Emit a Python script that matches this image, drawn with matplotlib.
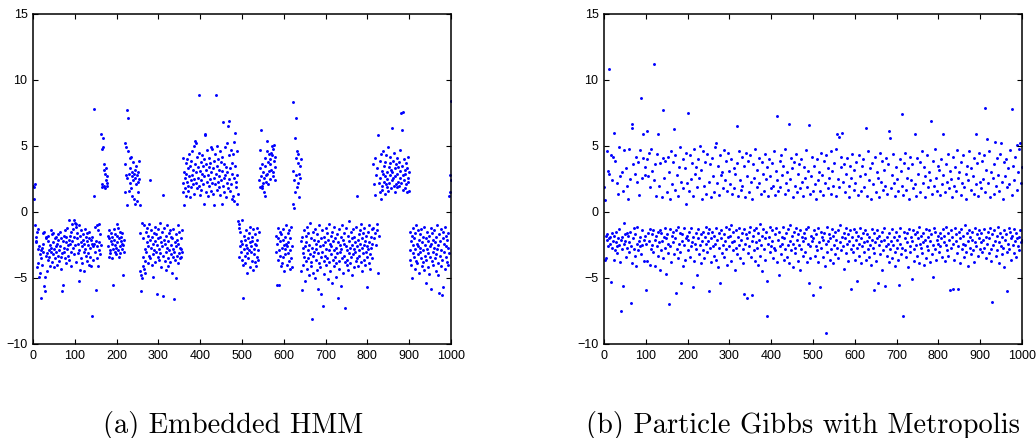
import matplotlib
matplotlib.use("Agg")
import matplotlib.pyplot as plt
import numpy as np

# Panel (a): Embedded HMM -- segments of consecutive iterations (start index, values)
a_starts = [1, 5, 145, 147, 163, 179, 219, 256, 358, 491, 541, 581, 621, 641, 813, 901, 996]
a_segments = [
    [2.0, 1.9, 1.0, 2.1],
    [-1.0, -2.3, -1.9, -2.2, -1.5, -4.2, -1.3, -2.8, -3.9, -4.9,
     -2.6, -3.2, -4.6, -2.9, -6.5, -3.5, -2.7, -4.0, -1.6, -3.0,
     -2.4, -5.6, -1.5, -4.9, -6.0, -3.3, -2.0, -1.9, -4.5, -3.1,
     -2.2, -3.6, -1.8, -2.9, -3.4, -2.5, -4.1, -1.4, -3.0, -2.7,
     -1.7, -3.8, -2.3, -3.2, -1.6, -2.8, -4.2, -2.0, -3.5, -2.6,
     -1.9, -3.0, -2.4, -4.0, -1.7, -3.3, -2.1, -2.9, -3.7, -1.5,
     -2.6, -3.4, -2.0, -4.3, -3.1, -6.0, -5.5, -2.2, -1.8, -3.0,
     -2.7, -1.4, -3.5, -2.3, -3.9, -1.9, -2.8, -1.2, -3.3, -2.5,
     -0.6, -2.1, -3.6, -1.8, -2.4, -4.1, -1.5, -3.0, -2.2, -0.9,
     -1.3, -2.7, -0.6, -1.9, -3.2, -0.8, -2.5, -1.1, -3.8, -0.9,
     -2.0, -1.6, -3.1, -2.4, -1.0, -5.2, -2.9, -1.8, -4.4, -2.3,
     -3.5, -1.4, -2.6, -3.9, -2.1, -1.7, -3.0, -2.4, -4.5, -1.3,
     -2.8, -3.3, -1.9, -2.2, -3.7, -1.6, -2.5, -3.1, -2.0, -4.0,
     -1.5, -2.7, -3.4, -2.1, -4.1, -7.9, -2.4, -1.9, -3.6, -2.6],
    [7.8, 1.2],
    [-2.4, -3.0, -1.1, -5.9, -2.2, -1.0, -3.5, -2.6, -1.4, -4.1,
     -2.9, -0.9, -2.3, -3.2, -1.7, -2.5],
    [5.9, 1.9, 4.8, 2.1, 5.6, 4.9, 3.6, 2.0, 3.2, 1.8, 2.9, 2.4, 3.3, 2.2, 2.7, 2.0],
    [-1.8, -2.6, -3.4, -2.0, -1.4, -2.9, -3.1, -2.2, -1.6, -3.5,
     -2.4, -1.9, -2.8, -5.5, -2.1, -1.3, -3.0, -2.5, -1.7, -2.7,
     -3.2, -0.9, -2.3, -1.8, -2.9, -1.2, -3.4, -2.0, -2.6, -1.5,
     -3.1, -2.2, -1.9, -2.8, -2.4, -1.6, -4.8, -2.5, -3.0, -2.1],
    [3.6, 5.2, 1.5, 2.8, 4.9, 0.5, 7.7, 2.6, 7.1, 4.6,
     1.6, 2.9, 4.1, 3.3, 2.2, 1.8, 4.2, 2.7, 3.0, 1.2,
     2.4, 3.8, 2.9, 1.0, 3.2, 2.6, 0.6, 2.1, 3.5, 2.8,
     0.8, 3.0, 2.3, 1.5, 3.9, 2.5, 0.5],
    [-4.5, -1.6, -6.0, -4.8, -5.0, -0.8, -4.1, -3.4, -2.0, -4.3,
     -1.0, -3.7, -2.8, -4.6, -1.5, -3.0, -2.3, -1.2, -3.9, -2.6,
     -1.8, -3.3, -0.9, 2.4, -2.1, -3.5, -1.4, -2.7, -4.0, -1.9,
     -4.9, -2.4, -3.2, -1.6, -2.9, -3.8, -1.1, -2.2, -3.0, -1.7,
     -6.2, -2.5, -3.4, -1.3, -2.0, -3.6, -2.8, -0.8, -1.9, -3.1,
     -2.3, -4.2, -1.5, -2.6, 1.3, -3.3, -6.4, -2.1, -1.2, -3.7,
     -2.4, -1.8, -3.0, -4.4, -2.7, -1.0, -3.5, -2.2, -4.1, -1.6,
     -2.9, -3.8, -1.4, -2.5, -3.2, -1.9, -4.6, -2.0, -2.8, -3.4,
     -1.3, -3.0, -6.6, -2.3, -3.6, -1.7, -2.6, -5.0, -3.3, -2.1,
     -1.0, -3.9, -2.4, -3.1, -1.5, -2.7, -3.5, -2.0, -3.4, -2.8,
     -1.4, -3.0],
    [1.5, 4.1, 2.2, 0.5, 3.0, 1.8, 2.6, 3.7, 1.2, 2.9,
     4.0, 2.3, 1.6, 3.3, 2.0, 4.4, 2.7, 1.1, 3.5, 2.4,
     3.9, 1.9, 2.8, 4.6, 2.1, 3.2, 1.4, 5.0, 2.5, 3.6,
     5.4, 2.2, 5.2, 3.0, 1.8, 4.2, 2.6, 3.4, 8.9, 2.0,
     4.5, 1.3, 3.1, 2.4, 3.8, 1.7, 2.9, 4.3, 2.1, 3.5,
     0.6, 2.7, 4.0, 5.9, 5.8, 3.2, 1.5, 3.6, 2.3, 4.7,
     2.8, 1.2, 3.4, 2.0, 4.1, 2.5, 3.7, 1.6, 4.9, 3.0,
     2.2, 4.8, 1.4, 3.3, 2.6, 0.5, 3.9, 2.1, 4.4, 8.9,
     2.9, 1.7, 3.5, 5.0, 2.3, 4.0, 1.9, 3.2, 2.7, 4.6,
     1.3, 3.8, 2.4, 0.6, 4.2, 3.1, 2.0, 6.8, 2.6, 3.6,
     1.5, 4.9, 2.8, 3.4, 1.1, 5.2, 2.2, 3.0, 1.8, 6.5,
     2.5, 4.3, 6.9, 1.6, 3.3, 2.1, 4.7, 1.0, 2.9, 3.7,
     1.2, 4.4, 2.6, 0.8, 5.3, 6.0, 3.5, 1.9, 2.3, 4.6,
     0.6, 2.8, 1.4],
    [-0.7, -1.2, -3.4, -0.9, -2.6, -1.5, -3.0, -2.2, -0.6, -3.6,
     -2.4, -4.0, -6.5, -2.8, -1.8, -3.3, -2.1, -3.9, -2.5, -1.4,
     -3.1, -2.7, -4.6, -2.0, -3.5, -1.6, -2.9, -4.2, -2.3, -1.1,
     -3.0, -2.6, -1.9, -3.7, -2.2, -4.4, -1.3, -2.8, -3.2, -2.4,
     -1.7, -3.8, -2.5, -4.1, -1.2, -3.4, -2.1, -2.9, -3.6, -1.5],
    [2.4, 4.7, 1.9, 3.3, 2.7, 6.2, 2.0, 1.8, 3.6, 2.2,
     3.0, 1.5, 2.6, 4.1, 1.2, 3.5, 2.3, 2.8, 5.4, 4.6,
     2.9, 3.8, 2.1, 4.4, 3.1, 4.0, 3.6, 2.5, 4.5, 3.2,
     4.3, 5.0, 3.0, 2.7, 4.8, 3.9, 5.1, 2.4, 4.2, 3.4],
    [-1.8, -3.0, -5.5, -2.4, -1.2, -3.6, -2.0, -5.5, -2.9, -1.5,
     -3.3, -2.2, -4.1, -1.7, -2.7, -3.9, -2.1, -1.3, -3.4, -2.5,
     -4.5, -1.9, -2.8, -3.2, -1.0, -2.4, -4.0, -2.6, -1.6, -3.1,
     -2.3, -3.7, -1.4, -2.9, -4.3, -2.0, -1.1, -3.5, -2.6, -4.2],
    [0.6, 3.1, 8.3, 2.4, 0.3, 5.6, 1.5, 4.1, 7.1, 2.8,
     4.6, 1.9, 3.7, 2.2, 4.4, 2.9, 1.1, 3.5, 2.6, 4.0],
    [-2.2, -4.5, -5.9, -1.9, -3.1, -2.7, -4.0, -1.4, -3.4, -2.6,
     -5.2, -1.8, -3.7, -2.3, -4.3, -1.1, -2.9, -3.5, -1.6, -4.8,
     -2.5, -3.2, -0.8, -4.1, -2.0, -3.8, -8.1, -2.7, -1.5, -3.3,
     -4.6, -2.1, -3.0, -5.0, -1.3, -2.8, -3.6, -2.4, -4.4, -1.7,
     -3.1, -2.2, -5.8, -3.9, -1.0, -2.6, -4.2, -3.4, -2.0, -6.2,
     -1.4, -3.0, -2.5, -7.1, -3.7, -1.9, -4.7, -2.3, -3.3, -1.2,
     -2.8, -4.0, -1.6, -3.5, -2.1, -5.1, -2.9, -0.9, -3.8, -2.4,
     -4.5, -1.8, -3.2, -2.6, -5.4, -1.5, -3.6, -2.2, -4.1, -2.9,
     -1.1, -3.4, -2.0, -4.9, -2.7, -3.9, -1.7, -3.1, -6.5, -2.3,
     -3.7, -1.3, -4.3, -2.5, -3.0, -1.9, -5.6, -2.8, -1.0, -3.5,
     -2.1, -4.6, -2.4, -3.3, -1.6, -3.8, -7.3, -2.6, -1.2, -4.0,
     -2.9, -3.6, -1.8, -4.4, -2.2, -3.1, -0.7, -2.7, -3.9, -1.5,
     -3.4, -2.0, -4.8, -2.5, -1.3, -3.2, -2.8, -4.2, -1.9, -3.0,
     -2.3, -3.7, -1.1, -2.6, 1.2, -3.5, -2.1, -4.1, -1.7, -2.9,
     -3.3, -1.4, -2.4, -3.8, -0.9, -2.7, -4.5, -2.0, -3.1, -1.6,
     -2.5, -3.6, -1.2, -4.0, -2.2, -3.0, -1.8, -5.7, -2.6, -3.4,
     -1.5, -2.8, -3.9, -1.0, -2.3, -3.2, -4.3, -1.9, -2.7, -3.5,
     -1.3, -2.4],
    [-1.2, 3.6, -2.0, 2.1, -1.6, 4.1, 1.3, -2.5, 2.8, -1.4,
     3.3, -0.9, -4.6, 5.8, 2.2, -1.8, 1.5, 3.9, 2.6, 1.0,
     4.4, 2.0, 3.1, 1.7, 2.9, 4.6, 2.3, 3.5, 1.4, 2.7,
     3.8, 2.1, 4.3, 1.9, 3.0, 2.5, 4.9, 1.6, 3.4, 2.2,
     3.7, 2.8, 4.2, 1.8, 3.2, 2.4, 6.4, 3.0, 2.6, 3.9,
     2.0, 4.5, 3.3, 1.5, 2.7, 3.6, 2.1, 4.1, 2.9, 1.9,
     3.4, 2.3, 3.8, 2.0, 4.7, 2.6, 3.1, 7.5, 2.2, 6.2,
     3.5, 1.7, 7.6, 2.8, 4.0, 2.4, 3.2, 1.8, 2.9, 3.7,
     2.1, 3.3, 1.5, 2.6, 4.2, 2.3, 3.0, 1.6],
    [-2.9, -1.5, -3.6, -2.2, -4.0, -5.0, -1.8, -3.1, -2.5, -1.2,
     -3.4, -2.0, -4.3, -1.6, -2.8, -3.7, -1.0, -2.4, -3.9, -2.6,
     -1.4, -3.2, -4.6, -2.1, -3.0, -1.7, -2.7, -3.5, -1.3, -4.1,
     -2.3, -3.8, -1.9, -2.9, -4.4, -1.1, -3.3, -2.5, -5.4, -2.0,
     -3.6, -1.5, -2.8, -4.2, -2.2, -3.1, -1.8, -4.7, -2.6, -3.4,
     -1.2, -5.8, -2.4, -3.7, -1.6, -3.0, -2.1, -4.0, -2.7, -1.4,
     -3.5, -2.3, -4.5, -1.9, -3.2, -2.8, -1.0, -3.9, -2.5, -4.8,
     -6.1, -1.7, -3.3, -2.2, -4.1, -2.9, -1.3, -6.3, -3.6, -2.0,
     -1.5, -5.7, -3.0, -2.4, -4.3, -1.1, -3.4, -2.6, -1.8, -3.8,
     -2.1, -4.0, -1.6, -2.7, -3.1],
    [1.2, 2.8, 1.5, 8.4, 2.4],
]

# Panel (b): Particle Gibbs with Metropolis -- one value per iteration, blocks of 100
b_block_0 = [1.9, 0.9, -3.6, -3.5, -1.8, -2.1, 4.6, -1.7, -2.6, 3.1,
             -2.0, 2.9, 10.8, -2.4, -1.9, 4.3, -5.3, -2.7, 2.4, -1.6,
             -2.2, 4.2, -3.6, 6.0, -1.8, -2.9, 3.9, -2.3, -1.5, 2.2,
             -2.6, -3.1, 1.4, -2.0, -1.3, 4.9, -2.5, -3.8, 2.7, -7.5,
             -2.1, 3.0, -1.9, -2.8, -5.6, 1.6, -2.4, -0.8, 4.7, -1.7,
             -2.2, 3.3, -3.4, -1.6, 2.0, -2.7, -1.8, 1.0, -2.3, 4.8,
             -3.0, -1.5, 2.5, -6.9, -2.6, 6.7, -3.9, 6.4, -2.0, 3.6,
             -1.2, -2.8, 2.9, -3.3, -1.7, 4.2, -4.1, 2.3, -2.4, -1.1,
             3.8, -2.9, -2.2, 1.3, -2.6, 4.7, -1.9, 8.6, -3.2, 2.6,
             -2.5, -1.4, 4.1, 5.9, -2.1, -3.7, 3.4, -1.8, 2.8, -5.9]
b_block_1 = [-2.4, 4.0, 6.1, -3.7, -1.6, 2.7, -2.2, 4.5, -4.0, -1.3,
             1.9, -2.8, 4.8, -1.7, -2.5, 3.1, -3.0, -1.4, 11.2, 2.4,
             -2.1, -4.1, 3.6, -1.8, 1.2, -2.6, 4.4, -3.3, -1.5, 5.9,
             -2.3, 2.0, -1.4, -4.4, 3.7, -2.9, -1.6, 1.1, -2.2, 4.1,
             -3.5, 7.7, -1.9, 2.6, -2.7, -1.2, 3.9, -4.7, -2.0, 1.5,
             -1.7, 4.2, -3.1, -2.4, -7.0, 3.0, -1.3, 1.0, -2.6, 4.6,
             -3.8, -1.8, 2.1, -2.3, 3.8, -1.5, 6.3, -3.2, 1.7, -2.0,
             4.3, -6.1, -1.4, 2.8, -2.8, -3.5, 1.2, -1.1, 3.4, -2.4,
             -1.6, 4.9, -3.0, -5.4, 2.3, -2.2, -1.7, 4.0, -4.1, 1.8,
             -2.5, -1.2, 3.3, -3.6, 0.6, -2.0, 4.5, -1.8, 2.2, -2.9]
b_block_2 = [7.5, -2.1, 1.6, -1.5, 4.3, -3.4, -2.6, 2.5, -1.2, 3.7,
             -2.3, -5.7, 1.2, -1.9, 4.8, -3.7, -2.4, 2.9, -1.6, 3.4,
             -2.8, -4.8, 1.9, -2.0, 4.0, -1.3, -3.2, 2.6, -2.5, 5.0,
             -1.7, -3.9, 3.2, -2.2, 1.0, -1.5, 4.6, -2.9, -3.5, 2.0,
             -1.9, 3.8, -2.4, -1.1, 1.4, -3.0, 4.4, -2.2, -1.6, -6.0,
             2.3, -1.3, -2.7, 3.6, -3.8, 1.1, -2.0, 4.1, -1.5, -2.6,
             2.7, -3.3, 1.5, -1.8, 4.9, -2.4, 5.2, -1.2, -3.6, 2.2,
             -2.1, 3.5, -4.2, -1.6, 1.3, -2.7, 4.3, -5.4, -2.0, 2.8,
             -1.4, -3.1, 3.0, -2.5, 1.8, -1.7, 4.7, -3.4, -2.2, 2.4,
             -1.1, 3.9, -2.8, -4.0, 1.6, -1.9, 4.5, -2.6, -1.3, 3.1]
b_block_3 = [-1.8, 2.1, -3.7, -1.0, 4.0, -2.3, 1.4, -2.9, -1.5, 3.3,
             -2.2, 1.8, -4.4, 2.9, -1.4, -2.7, 6.5, 3.7, -3.2, 1.2,
             -1.9, 4.6, -2.5, -1.2, 2.4, -3.5, 1.7, -2.1, 4.2, -1.6,
             2.0, -2.8, -3.9, 3.5, -1.3, -6.2, 1.1, -2.4, 4.5, -1.7,
             2.7, -6.5, -2.0, 3.9, -3.1, -1.5, 1.5, -2.6, 4.3, -1.1,
             -3.4, 2.3, -2.2, 1.0, -6.3, -1.8, 3.6, -2.9, -1.4, 2.6,
             -3.7, 4.8, -2.3, -1.2, 1.9, -2.7, 3.2, -4.0, -1.6, 2.2,
             -2.1, 4.1, -3.3, -0.9, 1.4, -2.5, 3.8, -1.8, -4.5, 2.9,
             -1.3, 1.6, -2.8, 4.4, -2.0, -3.6, 2.5, -1.5, -7.9, -5.2,
             3.4, -2.4, 1.2, -1.9, 4.0, -3.0, -1.1, 2.7, -2.6, 1.8]
b_block_4 = [-2.2, 3.7, -1.4, -3.5, 2.0, -2.7, 4.6, -1.7, 1.3, -2.9,
             3.1, -1.2, -3.8, 2.4, 7.3, -2.1, 1.6, -4.8, -1.5, 3.9,
             -2.6, 1.9, -3.2, 4.3, -1.9, -2.4, 2.8, -1.1, 3.5, -3.6,
             -2.0, 1.4, 4.8, -2.8, -1.6, 2.2, -3.4, 3.0, -1.3, -2.5,
             1.7, -3.9, 6.7, -2.2, -1.0, 2.5, -2.9, 4.1, -1.8, 3.3,
             -2.4, -4.2, 1.1, -1.5, 3.8, -2.7, 2.0, -3.1, -1.2, 4.4,
             -2.1, 1.5, -3.7, 2.9, -1.7, -2.5, 3.6, -4.4, 1.8, -1.4,
             4.0, -2.8, -1.9, 2.3, -3.3, 1.2, -2.2, 3.4, -1.6, -3.0,
             2.6, -2.0, 4.7, -1.3, -3.8, 1.9, -2.4, 3.1, -1.1, -5.4,
             6.6, -2.6, 1.4, -3.5, 2.7, -1.8, 4.2, -2.2, -6.3, 1.6]
b_block_5 = [-2.0, 3.5, -1.4, -3.3, 2.1, -2.6, 1.0, -1.7, 4.0, -2.9,
             2.4, -1.2, -3.8, 3.0, -2.3, -5.7, 1.6, -1.5, 4.5, -2.7,
             -1.9, 2.8, -3.4, 1.3, -2.1, 3.9, -1.6, -4.1, 2.2, -9.2,
             -2.4, 4.3, -1.1, -3.0, 1.8, -2.2, 3.3, -1.7, 2.6, -3.6,
             -2.0, 1.4, 4.6, -2.8, -1.3, 3.1, -3.9, 2.0, -1.8, -2.5,
             3.7, -1.5, -3.2, 1.2, 4.8, -2.1, 5.9, -2.7, 2.5, -1.4,
             -3.5, 1.9, 5.7, -2.3, -1.0, 3.4, -2.9, 4.2, -1.9, 6.0,
             -2.6, 2.3, -1.6, -4.3, 3.6, -2.0, 1.5, -3.1, -1.2, 2.9,
             -2.4, 4.1, -1.7, -3.7, 2.0, -2.2, 1.1, -1.4, 3.5, -2.8,
             -5.8, 2.6, -1.9, 4.4, -3.0, -2.5, 1.7, -1.3, 3.2, -3.6]
b_block_6 = [2.2, -2.1, -1.5, 3.8, -5.2, -2.7, 1.3, -1.8, 4.3, -3.3,
             -2.4, 2.7, -1.2, -3.9, 1.6, -2.0, 3.5, -2.6, -1.6, 4.0,
             -3.0, 1.9, -2.3, -1.4, 2.9, 6.4, -3.6, -2.2, 1.2, -1.7,
             4.6, -2.8, -3.4, 2.4, -1.9, -2.5, 3.3, -4.0, 1.0, -2.1,
             -1.3, 3.7, -2.7, 2.1, -3.1, -1.6, -5.9, 4.2, -2.3, 1.5,
             -3.7, -2.0, 3.0, -1.4, 2.6, -5.4, -2.5, 1.1, -1.8, 4.5,
             -3.2, 2.3, -2.2, -4.4, 3.9, -1.5, 1.7, -2.9, -2.1, 3.2,
             -1.2, 2.0, -5.6, -2.6, 4.1, -3.3, 1.4, -1.9, -2.4, 3.6,
             -3.8, 6.1, -1.6, 5.6, -2.8, 1.8, -2.2, -3.5, 2.8, -1.3,
             4.4, -2.5, -1.9, 2.2, -3.0, -4.1, 1.2, -1.5, 3.4, -2.7]
b_block_7 = [-2.1, 2.5, -3.6, 1.6, -5.5, -1.8, 4.0, -2.4, -1.2, 3.1,
             -3.2, 2.0, 7.4, -2.7, -7.9, 1.3, -1.5, 3.7, -2.9, -2.0,
             4.5, -3.4, 1.7, -1.6, 2.6, -2.3, -4.2, 3.3, -1.3, 1.0,
             -2.6, 4.2, -3.0, -1.9, 2.4, -2.2, 3.6, -5.1, -1.4, 1.8,
             -2.8, -3.7, 5.9, -1.7, 2.1, -2.5, 1.2, -3.3, 4.1, -1.5,
             -2.0, 2.9, -3.9, -1.1, 3.8, -2.4, 1.5, -2.7, -1.8, 4.6,
             -3.1, 2.2, -1.6, -2.3, 3.4, -4.0, 1.1, -2.1, 2.7, -1.3,
             -3.5, 4.3, -2.6, 1.9, -1.9, -2.9, 3.0, -1.4, 2.4, -3.8,
             -2.2, 6.9, -1.7, 1.4, -3.2, 3.9, -2.5, -4.9, 2.0, -1.2,
             4.8, -2.8, -1.5, 2.6, -3.6, 1.6, -2.1, 3.5, -1.8, -2.4]
b_block_8 = [3.2, -3.0, 1.3, -1.6, -2.6, 4.0, -2.0, 2.1, -3.4, -1.3,
             2.8, 5.9, -2.3, -1.8, 1.5, -3.7, 3.6, -2.5, -1.1, 2.3,
             -2.9, 4.4, -1.6, -3.3, 1.8, -2.1, 3.1, -5.9, -1.4, 2.5,
             -2.7, 1.1, -1.9, -5.8, 4.2, -2.4, -3.6, 2.0, -1.2, 3.4,
             -2.2, -1.7, 1.6, -3.1, 4.7, -2.6, 2.6, -5.8, -1.5, 3.0,
             -2.0, -3.9, 1.3, -1.3, 3.8, -2.8, 2.2, -1.8, -2.4, 4.3,
             -3.4, 1.9, -1.0, -2.5, 2.9, -3.0, 1.0, -1.6, 3.5, -2.2,
             -4.1, 2.4, -1.4, 4.6, -2.7, -1.9, 1.7, -3.2, 3.3, -2.1,
             -1.5, 2.7, -2.9, 1.4, -3.8, 4.1, -2.3, -1.2, 2.1, 5.9,
             -2.6, -1.7, 3.7, -3.3, 1.2, -2.0, 4.5, -1.4, -2.8, 2.3]
b_block_9 = [-2.3, 1.8, -1.6, 3.9, -3.0, -2.1, 2.5, -1.3, 4.3, -2.7,
             1.5, 7.9, -3.5, -1.9, 3.2, -2.4, 5.5, -1.5, 2.2, -3.1,
             -2.0, 4.6, -1.2, 1.1, -2.8, -3.7, 3.0, -6.8, -1.7, 2.6,
             -2.5, 1.4, -1.4, 3.6, 5.3, -2.2, -3.3, 2.0, -1.8, 4.1,
             -2.9, -1.1, 2.8, -3.9, 1.6, -2.3, 4.4, -1.6, -2.6, 5.2,
             -3.2, 2.3, -1.9, 1.0, -2.7, 3.8, -1.4, -4.2, 2.7, -2.1,
             4.0, -1.7, -3.0, -6.0, 1.9, -2.4, 3.3, -1.2, -2.8, 2.1,
             -1.5, 4.7, -3.6, -2.0, 1.3, -1.8, 7.8, -2.5, 3.5, -3.1,
             -1.3, 2.4, -2.2, 4.2, -1.6, -3.4, 1.7, 5.1, -2.0, -2.6,
             3.0, -1.9, 4.8, -2.9, 5.2, -1.4, 2.2, -2.3, 3.4, -2.1]

captions = ["(a) Embedded HMM", "(b) Particle Gibbs with Metropolis"]
x_ticks = list(range(0, 1001, 100))
y_ticks = [-10, -5, 0, 5, 10, 15]

a_x = np.concatenate([np.arange(s, s + len(v)) for s, v in zip(a_starts, a_segments)])
a_y = np.concatenate([np.array(v) for v in a_segments])
b_y = np.concatenate([b_block_0, b_block_1, b_block_2, b_block_3, b_block_4,
                      b_block_5, b_block_6, b_block_7, b_block_8, b_block_9])
b_x = np.arange(1, len(b_y) + 1)

plt.rcParams['font.family'] = ['Liberation Sans', 'DejaVu Sans']

fig = plt.figure(figsize=(10.36, 4.38), dpi=100)
ax_w = 418 / 1036
ax_h = 330 / 438
ax_b = 94 / 438
axes = [fig.add_axes([33 / 1036, ax_b, ax_w, ax_h]),
        fig.add_axes([604 / 1036, ax_b, ax_w, ax_h])]
centers = [233 / 1036, 803 / 1036]

for ax, (xs, ys), cap, cx in zip(axes, [(a_x, a_y), (b_x, b_y)], captions, centers):
    ax.scatter(xs, ys, s=4.5, marker='o', color='#0000ff', linewidths=0)
    ax.set_xlim(0, 1000)
    ax.set_ylim(-10, 15)
    ax.set_xticks(x_ticks)
    ax.set_yticks(y_ticks)
    ax.tick_params(direction='in', top=True, right=True, length=3.5, width=0.8,
                   labelsize=9, pad=4)
    for sp in ax.spines.values():
        sp.set_linewidth(1.1)
    fig.text(cx, 5 / 438, cap, ha='center', va='baseline', fontsize=20.5,
             family='cmr10')

fig.savefig('out.png', dpi=100)
